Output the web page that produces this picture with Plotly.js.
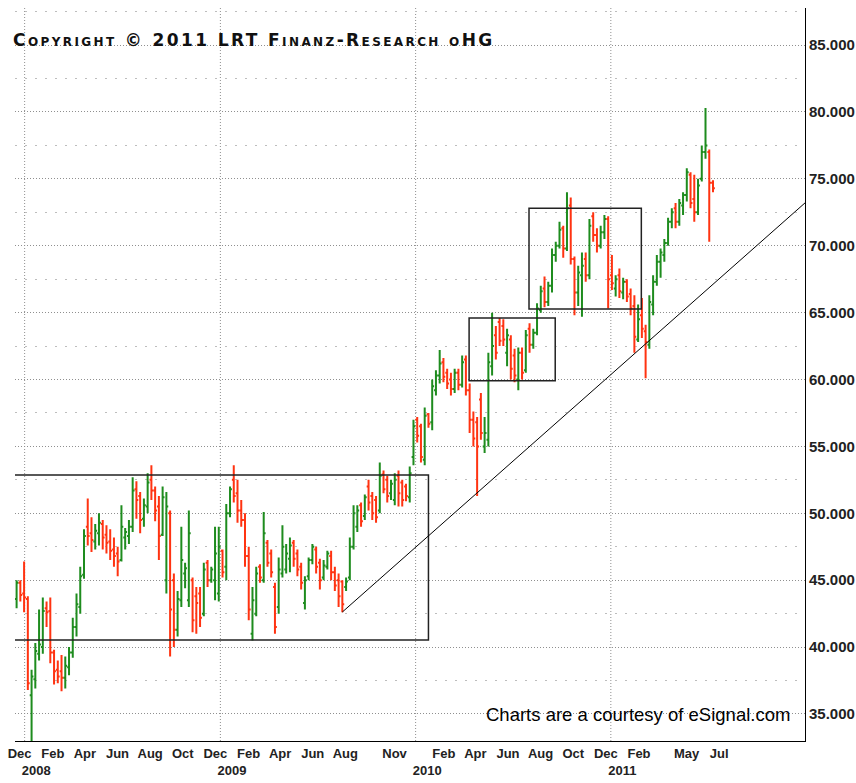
<!DOCTYPE html>
<html>
<head>
<meta charset="utf-8">
<script src="https://cdn.plot.ly/plotly-3.0.1.min.js"></script>
<style>
html,body{margin:0;padding:0;background:#fff;}
#chart{width:856px;height:783px;}
g.annotation[data-index="0"] text{letter-spacing:2.4px;}
</style>
</head>
<body>
<div id="chart"></div>
<script>
// Weekly bars (week ending dates)
const weekDates = [
"2007-11-16","2007-11-23","2007-11-30","2007-12-07","2007-12-14","2007-12-21","2007-12-28",
"2008-01-04","2008-01-11","2008-01-18","2008-01-25","2008-02-01","2008-02-08","2008-02-15","2008-02-22","2008-02-29",
"2008-03-07","2008-03-14","2008-03-21","2008-03-28","2008-04-04","2008-04-11","2008-04-18","2008-04-25",
"2008-05-02","2008-05-09","2008-05-16","2008-05-23","2008-05-30","2008-06-06","2008-06-13","2008-06-20","2008-06-27",
"2008-07-04","2008-07-11","2008-07-18","2008-07-25","2008-08-01","2008-08-08","2008-08-15","2008-08-22","2008-08-29",
"2008-09-05","2008-09-12","2008-09-19","2008-09-26","2008-10-03","2008-10-10","2008-10-17","2008-10-24","2008-10-31",
"2008-11-07","2008-11-14","2008-11-21","2008-11-28","2008-12-05","2008-12-12","2008-12-19","2008-12-26",
"2009-01-02","2009-01-09","2009-01-16","2009-01-23","2009-01-30","2009-02-06","2009-02-13","2009-02-20","2009-02-27",
"2009-03-06","2009-03-13","2009-03-20","2009-03-27","2009-04-03","2009-04-10","2009-04-17","2009-04-24",
"2009-05-01","2009-05-08","2009-05-15","2009-05-22","2009-05-29","2009-06-05","2009-06-12","2009-06-19","2009-06-26",
"2009-07-03","2009-07-10","2009-07-17","2009-07-24","2009-07-31","2009-08-07","2009-08-14","2009-08-21","2009-08-28",
"2009-09-04","2009-09-11","2009-09-18","2009-09-25","2009-10-02","2009-10-09","2009-10-16","2009-10-23","2009-10-30",
"2009-11-06","2009-11-13","2009-11-20","2009-11-27","2009-12-04","2009-12-11","2009-12-18","2009-12-25",
"2010-01-01","2010-01-08","2010-01-15","2010-01-22","2010-01-29","2010-02-05","2010-02-12","2010-02-19","2010-02-26",
"2010-03-05","2010-03-12","2010-03-19","2010-03-26","2010-04-02","2010-04-09","2010-04-16","2010-04-23","2010-04-30",
"2010-05-07","2010-05-14","2010-05-21","2010-05-28","2010-06-04","2010-06-11","2010-06-18","2010-06-25",
"2010-07-02","2010-07-09","2010-07-16","2010-07-23","2010-07-30","2010-08-06","2010-08-13","2010-08-20","2010-08-27",
"2010-09-03","2010-09-10","2010-09-17","2010-09-24","2010-10-01","2010-10-08","2010-10-15","2010-10-22","2010-10-29",
"2010-11-05","2010-11-12","2010-11-19","2010-11-26","2010-12-03","2010-12-10","2010-12-17","2010-12-24","2010-12-31",
"2011-01-07","2011-01-14","2011-01-21","2011-01-28","2011-02-04","2011-02-11","2011-02-18","2011-02-25",
"2011-03-04","2011-03-11","2011-03-18","2011-03-25","2011-04-01","2011-04-08","2011-04-15","2011-04-22","2011-04-29",
"2011-05-06","2011-05-13","2011-05-20","2011-05-27","2011-06-03","2011-06-10"
];

const openP = [
43.6,44.8,44.0,43.6,36.4,37.6,39.5,40.0,42.9,42.7,
39.6,38.3,38.2,37.7,38.5,39.6,41.5,43.0,45.4,49.0,
48.5,47.9,48.5,49.2,48.4,47.9,47.3,47.0,46.5,48.2,
48.3,49.0,51.8,51.3,49.6,50.5,52.5,51.7,50.5,48.4,
45.0,50.0,45.0,41.3,43.5,45.5,43.5,45.0,43.8,44.0,
42.5,46.3,45.0,45.0,44.0,47.2,46.0,50.0,52.5,51.5,
50.2,49.5,46.8,41.0,42.5,46.0,45.0,47.8,47.0,44.5,
43.0,45.5,45.8,46.6,47.8,47.0,46.0,43.3,45.3,46.5,
47.3,46.3,45.2,46.0,46.8,45.6,45.0,44.9,44.5,45.2,
47.5,49.0,50.6,49.8,52.0,51.3,51.0,50.2,52.9,52.5,
51.5,51.0,52.8,52.3,52.0,51.2,54.2,57.0,56.5,54.0,
57.4,56.8,59.2,60.3,61.3,60.5,60.0,59.3,60.5,59.6,
61.5,59.2,57.0,56.8,58.5,55.0,55.5,61.0,63.3,64.3,
64.0,62.0,63.0,61.8,60.0,62.0,60.7,63.8,62.6,63.5,
65.2,66.8,65.8,67.0,69.3,70.0,71.3,69.8,73.0,69.0,
66.5,67.8,69.0,67.8,72.2,70.8,70.0,71.0,72.0,67.8,
66.8,67.8,66.5,67.3,66.4,65.5,63.0,64.8,63.6,62.6,
65.6,67.3,68.8,69.3,70.2,71.8,72.8,71.8,73.0,73.8,
75.3,73.5,72.5,75.0,77.0,77.0,74.7
];
const highP = [
45.0,45.0,46.4,43.8,38.3,40.3,42.8,43.7,43.4,43.7,
39.8,39.0,39.4,39.3,40.0,42.2,44.0,46.0,48.8,51.1,
49.7,49.2,50.0,49.5,49.1,48.8,48.2,47.5,50.6,48.9,
49.5,52.7,52.4,51.6,51.1,53.0,53.6,52.0,51.3,52.0,
51.6,50.2,45.5,44.2,49.0,46.3,50.2,45.2,44.5,44.5,
46.3,46.5,46.0,49.0,49.0,47.3,50.7,52.0,53.6,52.5,
51.0,50.0,47.5,44.5,46.0,46.2,50.1,48.0,47.3,44.8,
46.7,49.1,47.7,48.2,48.0,47.3,46.3,45.3,46.7,47.7,
47.5,46.6,46.5,47.2,47.2,46.0,45.5,45.0,45.2,48.2,
50.6,50.6,50.8,51.4,52.5,51.6,51.3,53.8,53.2,52.8,
52.5,53.0,53.2,52.5,52.2,53.5,57.0,57.2,56.7,57.9,
57.5,60.0,60.7,62.2,61.6,60.8,60.5,60.8,60.8,61.8,
61.8,59.7,57.6,57.2,59.0,57.2,62.0,65.0,64.0,64.6,
64.5,63.8,63.3,62.3,62.4,62.4,63.7,64.2,63.8,65.7,
67.0,67.7,67.3,69.8,70.3,71.8,71.5,74.0,73.6,69.2,
68.5,69.5,69.5,72.0,72.5,71.3,71.5,72.3,72.2,69.3,
67.8,68.3,67.6,67.5,66.8,66.3,65.6,66.1,64.1,66.3,
67.8,69.3,69.8,70.5,72.1,72.8,73.2,73.5,74.0,75.8,
75.5,75.3,75.0,77.5,80.3,77.2,74.9
];
const lowP = [
42.9,43.4,42.6,36.8,32.5,36.9,39.0,39.5,41.5,38.8,
37.2,37.3,36.7,36.9,37.9,39.2,40.8,42.5,45.1,47.6,
47.1,47.3,47.6,47.3,47.0,46.5,46.0,45.3,46.4,47.3,
47.7,48.6,49.6,48.5,49.0,50.0,51.0,49.4,46.5,48.3,
44.0,39.3,40.0,40.8,43.0,44.4,43.0,41.1,41.0,41.5,
42.3,44.5,44.8,43.5,43.4,45.2,45.0,49.7,50.8,49.3,
49.0,46.0,42.0,40.5,42.3,44.8,44.8,46.0,45.2,41.0,
42.5,45.2,45.5,45.6,46.0,45.3,44.3,42.8,45.0,46.2,
45.5,44.3,45.0,45.8,45.0,44.2,43.0,42.6,44.2,45.0,
47.3,48.6,49.0,49.5,50.2,49.5,49.3,50.0,51.5,50.8,
51.0,50.6,50.5,50.5,50.9,50.8,53.6,55.3,53.8,53.6,
56.4,56.2,58.8,59.7,59.8,59.3,58.8,59.0,59.2,59.4,
58.8,56.0,55.0,51.3,55.5,54.5,55.0,60.3,61.5,62.5,
62.5,61.0,60.0,59.8,59.2,60.0,60.5,62.0,62.3,63.3,
65.0,65.4,65.5,66.5,68.8,69.8,69.1,69.6,68.6,64.8,
65.5,64.7,67.3,67.5,70.3,69.5,69.8,70.5,65.3,66.7,
66.2,66.1,66.0,65.8,64.8,62.0,62.8,63.1,60.1,62.3,
64.8,67.0,67.6,68.8,70.0,71.3,71.3,71.5,72.3,73.3,
72.8,71.8,72.3,74.8,76.5,70.3,74.0
];
const closeP = [
44.8,43.9,43.7,37.3,37.8,39.7,40.2,42.7,42.6,39.6,
38.2,37.8,37.7,38.6,39.6,41.5,43.2,45.3,48.3,48.3,
48.0,48.7,49.3,48.2,47.8,47.2,46.8,46.4,49.0,48.6,
49.0,51.7,51.0,49.5,50.6,52.3,51.7,50.2,48.3,51.2,
50.5,42.8,41.3,43.6,46.5,45.9,48.5,42.0,43.3,42.2,
45.8,45.0,45.8,47.0,47.5,45.6,50.0,51.8,51.3,50.2,
49.5,46.8,42.8,43.5,45.5,45.2,48.5,46.3,45.6,41.5,
45.8,47.5,47.0,47.6,46.6,45.8,44.8,45.0,46.5,47.5,
46.0,45.0,46.1,47.0,45.6,44.6,43.8,43.2,44.9,47.5,
50.0,50.2,49.4,51.2,50.8,50.0,49.7,52.8,51.8,51.3,
52.2,52.5,51.5,51.0,51.3,53.0,56.5,55.8,54.2,57.3,
56.7,59.5,60.3,61.2,60.2,59.7,59.3,60.5,59.6,61.3,
59.2,57.0,55.6,55.0,56.0,56.0,61.3,62.5,62.0,62.9,
63.0,63.3,60.8,60.3,62.0,60.5,63.3,62.6,63.5,65.3,
66.6,65.8,67.0,69.3,70.0,71.2,69.8,72.8,69.0,66.5,
68.0,68.5,67.8,71.5,70.8,70.0,71.0,72.0,67.5,67.2,
67.5,66.6,67.3,66.2,65.3,63.2,64.5,63.8,62.8,65.8,
67.3,68.8,69.5,70.2,71.8,72.5,71.8,73.2,73.8,75.5,
73.2,72.5,74.5,77.0,77.5,74.7,74.3
];

// Axis ticks
const monthTickDates = ["2007-12-01","2008-01-01","2008-02-01","2008-04-01","2008-06-01","2008-08-01","2008-10-01","2008-12-01",
  "2009-01-01","2009-02-01","2009-04-01","2009-06-01","2009-08-01","2009-11-01",
  "2010-01-01","2010-02-01","2010-04-01","2010-06-01","2010-08-01","2010-10-01","2010-12-01",
  "2011-01-01","2011-02-01","2011-05-01","2011-07-01"];
const monthTickText = ["Dec","<br>2008","Feb","Apr","Jun","Aug","Oct","Dec",
  "<br>2009","Feb","Apr","Jun","Aug","Nov",
  "<br>2010","Feb","Apr","Jun","Aug","Oct","Dec",
  "<br>2011","Feb","May","Jul"];
const yearGridDates = ["2007-12-01","2008-12-01","2009-12-01","2010-12-01"];

// Annotated boxes and trendline (date / price)
const boxStart = ["2007-10-01","2010-03-11","2010-07-01"];
const boxEnd   = ["2009-12-25","2010-08-19","2011-01-27"];
const boxLow   = [40.53, 59.9, 65.27];
const boxHigh  = [52.86, 64.6, 72.8];
const trendDates  = ["2009-07-17","2011-11-29"];
const trendPrices = [42.62, 73.2];

const GREEN = "#1e8c1e", RED = "#ff3311";

const trace = {
  type: "ohlc",
  x: weekDates, open: openP, high: highP, low: lowP, close: closeP,
  increasing: {line: {color: GREEN, width: 2}},
  decreasing: {line: {color: RED, width: 2}},
  tickwidth: 0.5,
  hoverinfo: "skip",
  showlegend: false
};

const shapes = [];
// yearly vertical dotted grid lines
for (const d of yearGridDates) {
  shapes.push({type: "line", xref: "x", yref: "paper", x0: d, x1: d, y0: 0, y1: 1,
    line: {color: "#8f8f8f", width: 1, dash: "1px,2px"}, layer: "below"});
}
for (let k = 0; k < boxStart.length; k++) {
  shapes.push({type: "rect", xref: "x", yref: "y",
    x0: boxStart[k], x1: boxEnd[k], y0: boxLow[k], y1: boxHigh[k],
    line: {color: "#222", width: 1.5}, fillcolor: "rgba(0,0,0,0)", layer: "above"});
}
shapes.push({type: "line", xref: "x", yref: "y",
  x0: trendDates[0], x1: trendDates[1], y0: trendPrices[0], y1: trendPrices[1],
  line: {color: "#000", width: 1}, layer: "above"});

const axisFont = {family: "'Liberation Sans', Arial, sans-serif", size: 13, color: "#222", weight: "bold"};

const layout = {
  width: 856, height: 783,
  margin: {l: 15, r: 51, t: 8, b: 42, pad: 0},
  paper_bgcolor: "#fff", plot_bgcolor: "#fff",
  showlegend: false,
  xaxis: {
    type: "date", range: ["2007-11-13", "2011-11-29"],
    tickmode: "array", tickvals: monthTickDates, ticktext: monthTickText,
    tickangle: 0, ticklabelshift: -5, ticks: "",
    tickfont: axisFont,
    showgrid: false, zeroline: false,
    showline: true, linecolor: "#000", linewidth: 1,
    rangeslider: {visible: false}, fixedrange: true
  },
  yaxis: {
    side: "right", range: [32.98, 87.77],
    tick0: 35, dtick: 5, tickformat: ".3f", ticks: "",
    tickfont: {family: "'Liberation Sans', Arial, sans-serif", size: 15, color: "#222", weight: "bold"},
    showgrid: true, griddash: "1px,2px", gridcolor: "#8f8f8f", gridwidth: 1,
    minor: {tick0: 35, dtick: 2.5, showgrid: true, griddash: "2px,8px", gridcolor: "#bdbdbd", gridwidth: 1},
    showline: true, linecolor: "#000", linewidth: 1,
    zeroline: false, fixedrange: true
  },
  shapes: shapes,
  annotations: [
    {text: "Copyright © 2011 LRT Finanz-Research oHG", xref: "paper", yref: "paper",
     x: 0.056, y: 0.956, xanchor: "left", yanchor: "middle", showarrow: false,
     font: {family: "'DejaVu Sans', sans-serif", size: 17, color: "#111", weight: "bold", variant: "small-caps"}},
    {text: "Charts are a courtesy of eSignal.com", xref: "paper", yref: "paper",
     x: 0.5937, y: 0.0368, xanchor: "left", yanchor: "middle", showarrow: false,
     font: {family: "'Liberation Sans', Arial, sans-serif", size: 18.5, color: "#000"}}
  ]
};

Plotly.newPlot("chart", [trace], layout, {displayModeBar: false, staticPlot: true});
</script>
</body>
</html>
